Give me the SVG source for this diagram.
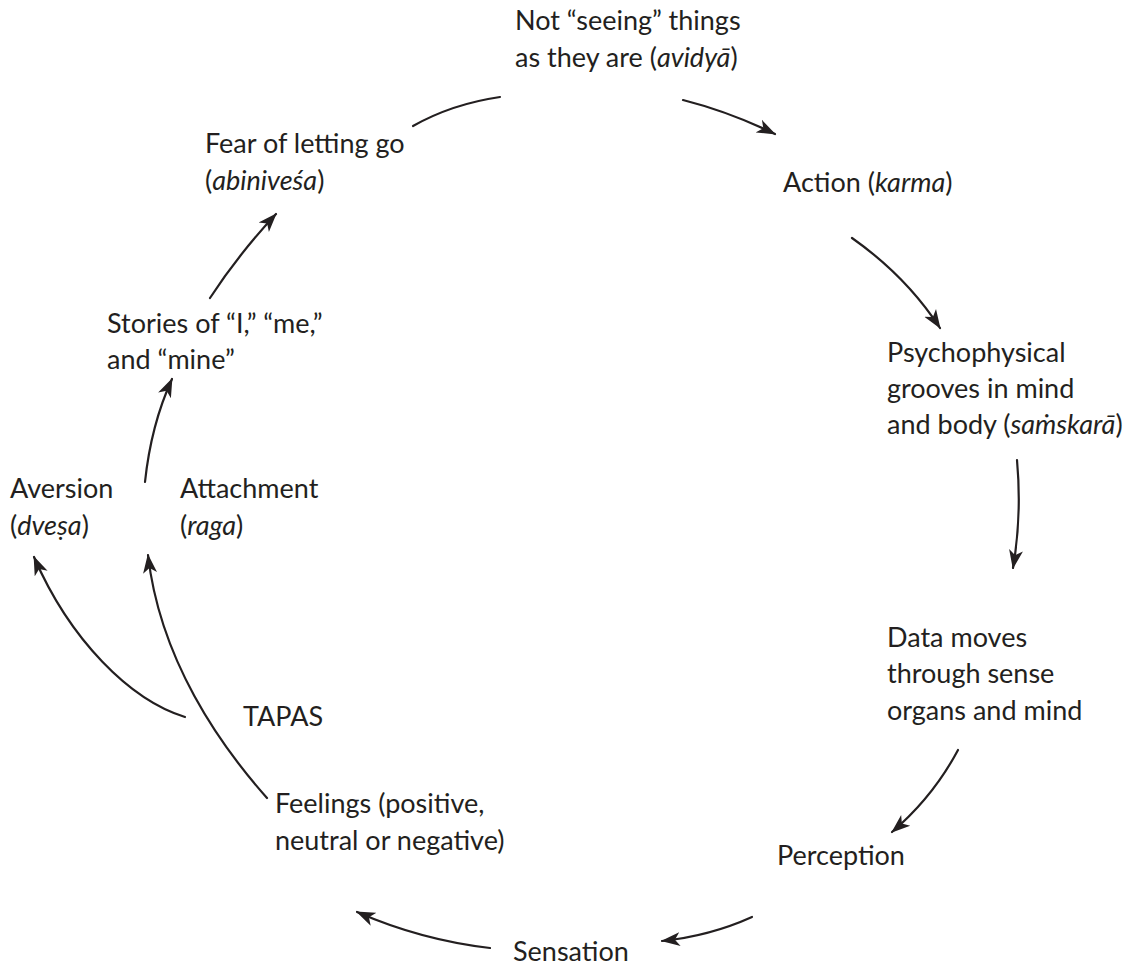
<svg xmlns="http://www.w3.org/2000/svg" width="1143" height="971" viewBox="0 0 1143 971">
  <defs>
    <style>
      .lbl { font-family: Lato, "Noto Sans", "Liberation Sans", sans-serif; font-size: 27px; fill: #231f20; }
      .lbl tspan.it { font-style: italic; }
      .conn { fill: none; stroke: #231f20; stroke-width: 2.2; stroke-linecap: round; }
    </style>
    <marker id="arrow" markerUnits="userSpaceOnUse" markerWidth="22" markerHeight="16" refX="18" refY="7" orient="auto" viewBox="0 0 22 14">
      <path d="M0,0 L19,7 L0,14 L5,7 Z" fill="#231f20"/>
    </marker>
  </defs>
  <rect width="1143" height="971" fill="#ffffff"/>

  <!-- connectors of the cycle -->
  <g id="connectors">
    <path class="conn" d="M413,126 Q452,104 500,97"/>
    <path class="conn" d="M683,100 Q730,112 775,134" marker-end="url(#arrow)"/>
    <path class="conn" d="M852,238 Q906,276 940,328" marker-end="url(#arrow)"/>
    <path class="conn" d="M1017,460 Q1022,515 1013,568" marker-end="url(#arrow)"/>
    <path class="conn" d="M958,750 Q933,797 892,832" marker-end="url(#arrow)"/>
    <path class="conn" d="M752,917 Q710,936 662,941" marker-end="url(#arrow)"/>
    <path class="conn" d="M490,948 Q421,940 357,912" marker-end="url(#arrow)"/>
    <path class="conn" d="M267,798 C220,745 160,660 148,555" marker-end="url(#arrow)"/>
    <path class="conn" d="M185,717 C130,700 70,640 34,557" marker-end="url(#arrow)"/>
    <path class="conn" d="M145,482 Q151,425 172,379" marker-end="url(#arrow)"/>
    <path class="conn" d="M210,298 Q238,255 276,214" marker-end="url(#arrow)"/>
  </g>

  <g id="avidya">
    <text class="lbl" x="515" y="30">Not “seeing” things</text>
    <text class="lbl" x="515" y="67">as they are (<tspan class="it">avidyā</tspan>)</text>
  </g>
  <g id="karma">
    <text class="lbl" x="783" y="192">Action (<tspan class="it">karma</tspan>)</text>
  </g>
  <g id="samskara">
    <text class="lbl" x="887" y="362">Psychophysical</text>
    <text class="lbl" x="887" y="398">grooves in mind</text>
    <text class="lbl" x="887" y="434">and body (<tspan class="it">saṁskarā</tspan>)</text>
  </g>
  <g id="data">
    <text class="lbl" x="887" y="647">Data moves</text>
    <text class="lbl" x="887" y="683">through sense</text>
    <text class="lbl" x="887" y="720">organs and mind</text>
  </g>
  <g id="perception">
    <text class="lbl" x="777" y="865">Perception</text>
  </g>
  <g id="sensation">
    <text class="lbl" x="513" y="961">Sensation</text>
  </g>
  <g id="feelings">
    <text class="lbl" x="275" y="813">Feelings (positive,</text>
    <text class="lbl" x="275" y="850">neutral or negative)</text>
  </g>
  <g id="tapas">
    <text class="lbl" x="243" y="726">TAPAS</text>
  </g>
  <g id="aversion">
    <text class="lbl" x="10" y="498">Aversion</text>
    <text class="lbl" x="10" y="535">(<tspan class="it">dveṣa</tspan>)</text>
  </g>
  <g id="attachment">
    <text class="lbl" x="180" y="498">Attachment</text>
    <text class="lbl" x="180" y="535">(<tspan class="it">raga</tspan>)</text>
  </g>
  <g id="stories">
    <text class="lbl" x="107" y="333">Stories of “I,” “me,”</text>
    <text class="lbl" x="107" y="369">and “mine”</text>
  </g>
  <g id="abhinivesha">
    <text class="lbl" x="205" y="153">Fear of letting go</text>
    <text class="lbl" x="205" y="190">(<tspan class="it">abiniveśa</tspan>)</text>
  </g>
</svg>
